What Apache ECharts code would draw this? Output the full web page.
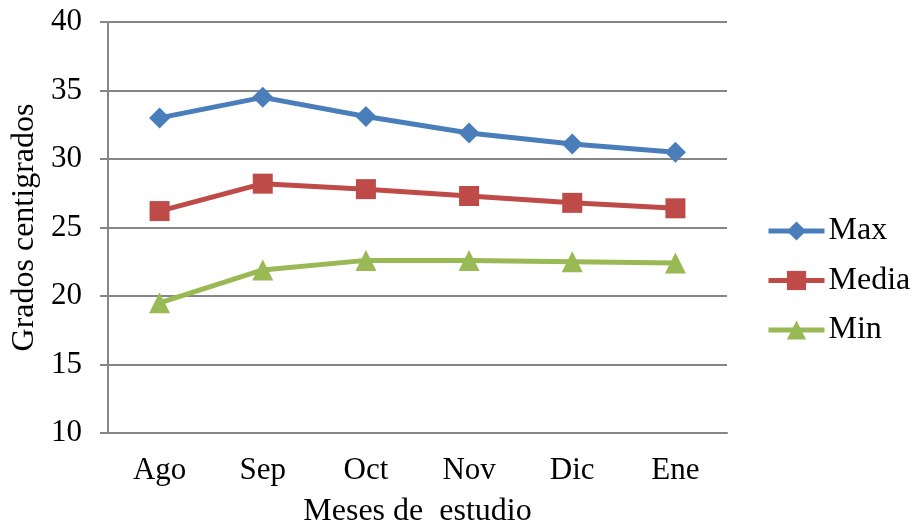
<!DOCTYPE html>
<html>
<head>
<meta charset="utf-8">
<script src="https://cdn.jsdelivr.net/npm/echarts@6/dist/echarts.min.js"></script>
<style>
  html, body { margin: 0; padding: 0; background: #fff; }
  #chart { width: 914px; height: 531px; }
</style>
</head>
<body>
<div id="chart"></div>
<script>
// Monthly temperatures (°C)
const months = ['Ago', 'Sep', 'Oct', 'Nov', 'Dic', 'Ene'];
const maxTemps = [33.0, 34.5, 33.1, 31.9, 31.1, 30.5];
const meanTemps = [26.2, 28.2, 27.8, 27.3, 26.8, 26.4];
const minTemps = [19.5, 21.9, 22.6, 22.6, 22.5, 22.4];

const FONT = '"Liberation Serif", "Times New Roman", serif';
const AXIS_GRAY = '#868686';

function lineSeries(name, data, color, symbol, size) {
  return {
    name: name,
    type: 'line',
    data: data,
    symbol: symbol,
    symbolSize: size,
    lineStyle: { color: color, width: 5 },
    itemStyle: { color: color },
    emphasis: { disabled: true }
  };
}

const chart = echarts.init(document.getElementById('chart'));
chart.setOption({
  animation: false,
  backgroundColor: '#fff',
  textStyle: { fontFamily: FONT },
  grid: { left: 108, right: 187, top: 22, bottom: 98, outerBoundsMode: 'none', containLabel: false },
  legend: {
    orient: 'vertical',
    left: 766,
    top: 215,
    padding: 0,
    itemWidth: 56,
    itemHeight: 24,
    itemGap: 17.5,
    lineStyle: { width: 5 },
    textStyle: { fontFamily: FONT, fontSize: 32, color: '#000', padding: [0, 0, 0, -1] },
    data: ['Max', 'Media', 'Min']
  },
  xAxis: {
    type: 'category',
    data: months,
    boundaryGap: true,
    name: 'Meses de  estudio',
    nameLocation: 'middle',
    nameGap: 63,
    nameTextStyle: { fontFamily: FONT, fontSize: 32, color: '#000' },
    axisLine: { lineStyle: { color: AXIS_GRAY, width: 2 } },
    axisTick: { show: false },
    axisLabel: { fontFamily: FONT, fontSize: 31, color: '#000', margin: 22 }
  },
  yAxis: {
    type: 'value',
    min: 10,
    max: 40,
    interval: 5,
    name: 'Grados centigrados',
    nameLocation: 'middle',
    nameGap: 67,
    nameTextStyle: { fontFamily: FONT, fontSize: 32, color: '#000' },
    axisLine: { show: true, lineStyle: { color: AXIS_GRAY, width: 2 } },
    axisTick: { show: true, length: 8, lineStyle: { color: AXIS_GRAY, width: 2 } },
    axisLabel: { fontFamily: FONT, fontSize: 31, color: '#000', margin: 26 },
    splitLine: { lineStyle: { color: AXIS_GRAY, width: 2 } }
  },
  series: [
    lineSeries('Max', maxTemps, '#4a7ebb', 'diamond', 21),
    lineSeries('Media', meanTemps, '#be4b48', 'rect', 20),
    lineSeries('Min', minTemps, '#98b954', 'triangle', 21)
  ]
});
</script>
</body>
</html>
